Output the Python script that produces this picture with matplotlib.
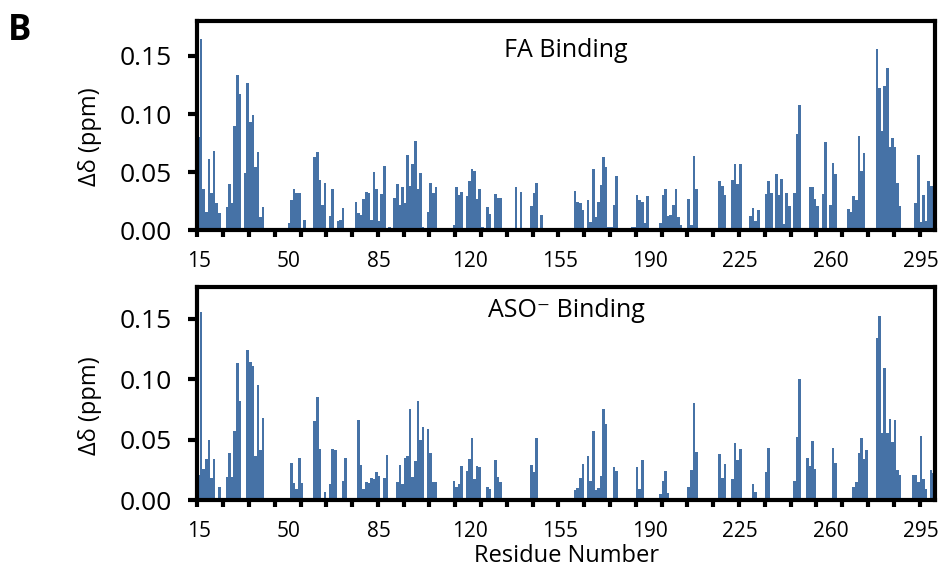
import numpy as np
import matplotlib
matplotlib.use('Agg')
import matplotlib.pyplot as plt

plt.rcParams['font.family'] = ['Open Sans', 'DejaVu Sans']

# residue numbers 15..300
residues = np.arange(15, 301)

# chemical shift perturbation, FA binding (ppm)
fa_shift = [
    0.080, 0.165, 0.035, 0.016, 0.061, 0.032, 0.068, 0.023, 0.015, 0,
    0, 0.020, 0.040, 0.023, 0.090, 0.134, 0.117, 0, 0.049, 0.127,
    0.093, 0.099, 0.054, 0.067, 0.011, 0.020, 0, 0, 0, 0,
    0, 0, 0, 0, 0, 0.006, 0.026, 0.035, 0.032, 0.032,
    0.002, 0.009, 0, 0, 0, 0.063, 0.067, 0.043, 0.022, 0.041,
    0, 0.012, 0.035, 0.002, 0.008, 0.009, 0.019, 0, 0, 0,
    0, 0.024, 0.015, 0.013, 0.027, 0.033, 0.032, 0.009, 0.050, 0.035,
    0.008, 0.031, 0.055, 0, 0.003, 0.002, 0.028, 0.040, 0.022, 0.037,
    0.023, 0.065, 0.038, 0.057, 0.077, 0.035, 0.049, 0.003, 0, 0.016,
    0.041, 0.032, 0.037, 0, 0, 0, 0, 0, 0, 0.004,
    0.037, 0.030, 0.033, 0, 0.029, 0.042, 0.053, 0.051, 0.027, 0.035,
    0.003, 0, 0.020, 0.014, 0, 0.031, 0.028, 0.028, 0, 0,
    0, 0, 0.002, 0.037, 0.002, 0.033, 0.002, 0, 0, 0.021,
    0.032, 0.041, 0.001, 0.013, 0, 0, 0, 0, 0, 0,
    0, 0, 0, 0, 0, 0, 0.034, 0.024, 0.023, 0.017,
    0, 0.026, 0.007, 0.053, 0.011, 0.024, 0.039, 0.063, 0.054, 0.003,
    0.003, 0.022, 0.047, 0, 0, 0, 0, 0, 0.003, 0.003,
    0.030, 0.026, 0.024, 0.006, 0.029, 0.002, 0, 0, 0, 0.006,
    0.030, 0.035, 0.012, 0.013, 0.022, 0.035, 0.011, 0.004, 0, 0,
    0.027, 0.004, 0.064, 0.035, 0, 0, 0, 0, 0, 0,
    0, 0, 0.042, 0.038, 0.030, 0, 0, 0.043, 0.057, 0.040,
    0.057, 0, 0, 0, 0.012, 0.019, 0.008, 0.017, 0, 0,
    0.031, 0.042, 0.032, 0, 0.048, 0.030, 0.044, 0.005, 0.032, 0.021,
    0, 0.032, 0.083, 0.108, 0, 0, 0.002, 0.037, 0.037, 0.027,
    0.021, 0, 0.031, 0.076, 0.001, 0.022, 0.058, 0.048, 0, 0,
    0, 0, 0.018, 0.016, 0.029, 0.026, 0.081, 0.051, 0.066, 0,
    0, 0, 0, 0.156, 0.122, 0.085, 0.124, 0.140, 0.072, 0.079,
    0.072, 0.041, 0.021, 0, 0, 0, 0, 0.002, 0.023, 0.065,
    0.007, 0.030, 0.008, 0.042, 0.038, 0.038,
]

# chemical shift perturbation, ASO- binding (ppm)
aso_shift = [
    0.021, 0.155, 0.026, 0.034, 0.050, 0.018, 0.034, 0, 0.011, 0,
    0, 0.019, 0.039, 0.019, 0.057, 0.113, 0.082, 0, 0, 0.124,
    0.114, 0.111, 0.036, 0.095, 0.041, 0.068, 0, 0, 0, 0,
    0, 0, 0, 0, 0, 0, 0.031, 0.014, 0.009, 0.035,
    0.014, 0.002, 0, 0, 0, 0.065, 0.085, 0.042, 0, 0.007,
    0, 0.013, 0.042, 0.041, 0, 0, 0.016, 0.035, 0, 0,
    0, 0, 0.066, 0.029, 0.009, 0.015, 0.014, 0.018, 0.017, 0.023,
    0.020, 0, 0.018, 0.037, 0, 0, 0, 0.015, 0.029, 0.013,
    0.035, 0.036, 0.075, 0.019, 0.032, 0.082, 0.050, 0.060, 0, 0.059,
    0.039, 0.015, 0.015, 0, 0, 0, 0, 0, 0, 0.016,
    0.011, 0.013, 0.028, 0, 0.024, 0.034, 0.051, 0.017, 0.028, 0.027,
    0, 0, 0.011, 0.009, 0, 0.033, 0.019, 0.015, 0, 0,
    0, 0, 0, 0, 0, 0, 0, 0, 0, 0.029,
    0.023, 0.051, 0, 0, 0, 0, 0, 0, 0, 0,
    0, 0, 0, 0, 0, 0, 0.008, 0.010, 0.018, 0.030,
    0, 0.036, 0.016, 0.057, 0.008, 0.010, 0.020, 0.075, 0.063, 0,
    0, 0.027, 0.024, 0, 0, 0, 0, 0, 0, 0,
    0.027, 0.009, 0.033, 0, 0, 0, 0, 0, 0, 0.005,
    0.016, 0.024, 0.006, 0, 0, 0, 0, 0, 0, 0,
    0.011, 0.025, 0.080, 0.040, 0, 0, 0, 0, 0, 0,
    0, 0, 0.038, 0.018, 0.030, 0, 0, 0.017, 0.047, 0.033,
    0.042, 0, 0, 0, 0, 0.013, 0.007, 0, 0, 0,
    0.023, 0.043, 0, 0, 0, 0, 0, 0, 0, 0,
    0, 0.016, 0.052, 0.100, 0, 0, 0.035, 0.028, 0.049, 0.026,
    0, 0, 0, 0, 0, 0, 0.043, 0.031, 0, 0,
    0, 0, 0, 0, 0.011, 0.015, 0.039, 0.051, 0.034, 0.041,
    0, 0, 0, 0.134, 0.152, 0.055, 0.109, 0.055, 0.067, 0.048,
    0.066, 0.025, 0.021, 0.002, 0, 0, 0, 0.021, 0.021, 0.015,
    0.053, 0.017, 0.009, 0, 0.025, 0.022,
]

xtick_labels = ['15', '50', '85', '120', '155', '190', '225', '260', '295']
ytick_vals = [0.00, 0.05, 0.10, 0.15]
panel_titles = ['FA Binding', 'ASO\u207b Binding']

bar_color = '#4672a6'

fig = plt.figure(figsize=(9.46, 5.71), dpi=100)
ax_top = fig.add_axes([0.2086, 0.597, 0.7798, 0.366])
ax_bot = fig.add_axes([0.2086, 0.1243, 0.7798, 0.373])

panels = [(ax_top, fa_shift, 0.180, 0.828), (ax_bot, aso_shift, 0.176, 0.858)]
for i, (ax, vals, ytop, ty) in enumerate(panels):
    ax.bar(residues, vals, width=1.0, color=bar_color, linewidth=0)
    ax.set_xlim(14.5, 300.5)
    ax.set_ylim(0, ytop)
    for s in ax.spines.values():
        s.set_linewidth(3)
        s.set_color('black')
    # labels every 35 residues, tick marks every 10 residues at bar edges
    ax.set_xticks([int(t) for t in xtick_labels])
    ax.set_xticklabels(xtick_labels)
    ax.set_xticks(np.arange(14.5, 301, 10), minor=True)
    ax.tick_params(axis='x', which='major', length=0, pad=15, labelsize=15)
    ax.tick_params(axis='x', which='minor', length=5, width=3, direction='out')
    ax.set_yticks(ytick_vals)
    ax.set_yticklabels(['%.2f' % v for v in ytick_vals])
    ax.tick_params(axis='y', length=6.5, width=3, direction='out', pad=12, labelsize=19)
    ax.set_ylabel('\u0394\u03b4 (ppm)', fontsize=17)
    ax.yaxis.set_label_coords(-0.129, 0.445)
    ax.text(0.5, ty, panel_titles[i], transform=ax.transAxes,
            ha='center', va='baseline', fontsize=18)

ax_bot.set_xlabel('Residue Number', fontsize=17, va='top')
ax_bot.xaxis.set_label_coords(0.5, -0.205)
fig.text(0.008, 0.978, 'B', fontsize=25, fontweight='bold', va='top', ha='left')

fig.savefig('out.png', dpi=100)
